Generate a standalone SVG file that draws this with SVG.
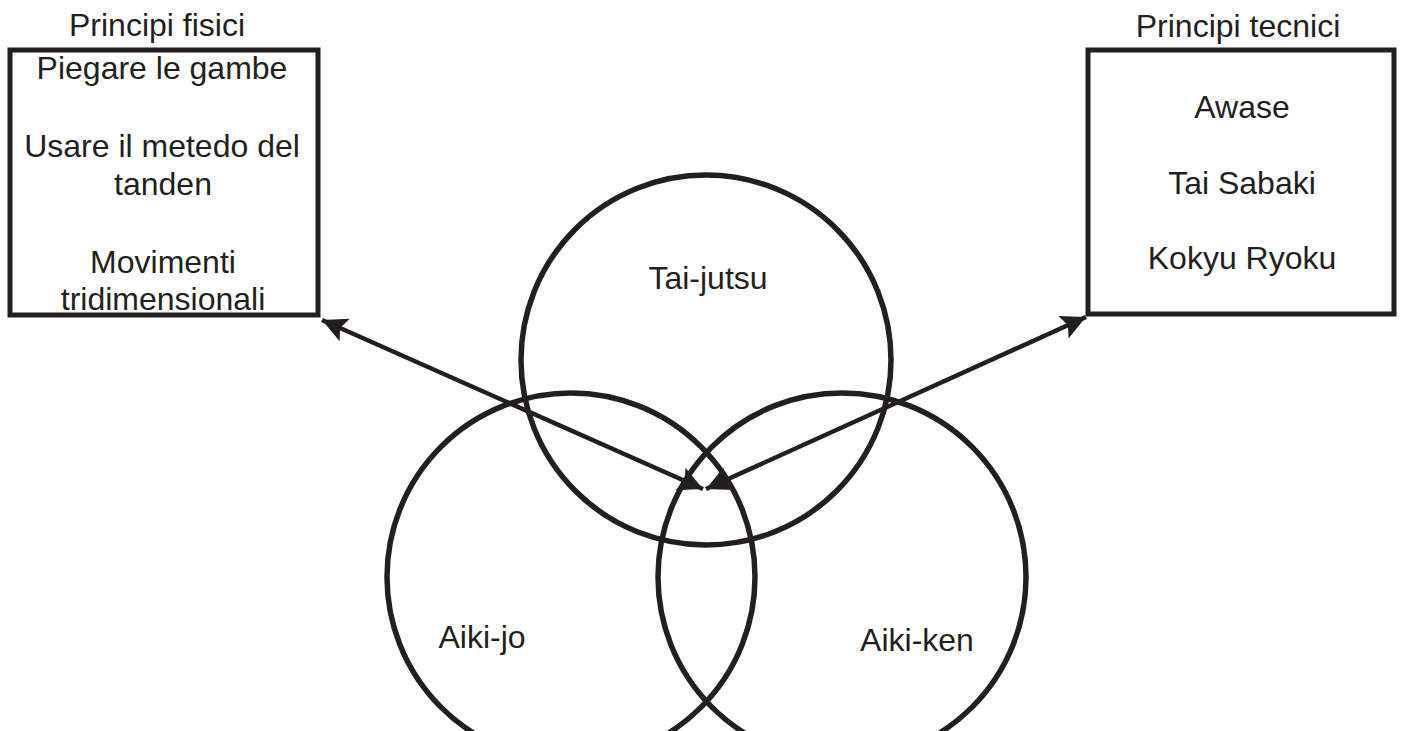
<svg xmlns="http://www.w3.org/2000/svg" width="1405" height="731" viewBox="0 0 1405 731">
  <defs>
    <style>
      .box { fill: none; stroke: #231f20; stroke-width: 5; }
      .circ { fill: none; stroke: #231f20; stroke-width: 5.5; }
      .conn { fill: none; stroke: #231f20; stroke-width: 4.5; }
      text { font-family: "Liberation Sans", Arial, sans-serif; font-size: 32px; fill: #231f20; text-anchor: middle; }
    </style>
    <marker id="ah" viewBox="0 0 10 10" refX="10" refY="5" markerWidth="7" markerHeight="5.5" markerUnits="strokeWidth" orient="auto-start-reverse">
      <path d="M0,0 L10,5 L0,10 L2,5 Z" fill="#231f20"/>
    </marker>
  </defs>
  <rect width="1405" height="731" fill="#ffffff"/>

  <g id="circle-taijutsu">
    <circle class="circ" cx="706" cy="360" r="185"/>
    <text x="708" y="289">Tai-jutsu</text>
  </g>
  <g id="circle-aikijo">
    <circle class="circ" cx="571" cy="577" r="184"/>
    <text x="482" y="648">Aiki-jo</text>
  </g>
  <g id="circle-aikiken">
    <circle class="circ" cx="842" cy="577" r="184"/>
    <text x="917" y="651">Aiki-ken</text>
  </g>

  <g id="box-fisici">
    <text x="157" y="36">Principi fisici</text>
    <rect class="box" x="10" y="50" width="308" height="265"/>
    <text x="162" y="79">Piegare le gambe</text>
    <text x="162" y="157">Usare il metedo del</text>
    <text x="163" y="195">tanden</text>
    <text x="163" y="273">Movimenti</text>
    <text x="163" y="310">tridimensionali</text>
  </g>

  <g id="box-tecnici">
    <text x="1238" y="37">Principi tecnici</text>
    <rect class="box" x="1088" y="50" width="306" height="264"/>
    <text x="1242" y="118">Awase</text>
    <text x="1242" y="194">Tai Sabaki</text>
    <text x="1242" y="269">Kokyu Ryoku</text>
  </g>

  <g id="connectors">
    <line class="conn" x1="322" y1="320" x2="703" y2="489" marker-start="url(#ah)" marker-end="url(#ah)"/>
    <line class="conn" x1="1086" y1="317" x2="706" y2="489" marker-start="url(#ah)" marker-end="url(#ah)"/>
  </g>
</svg>
